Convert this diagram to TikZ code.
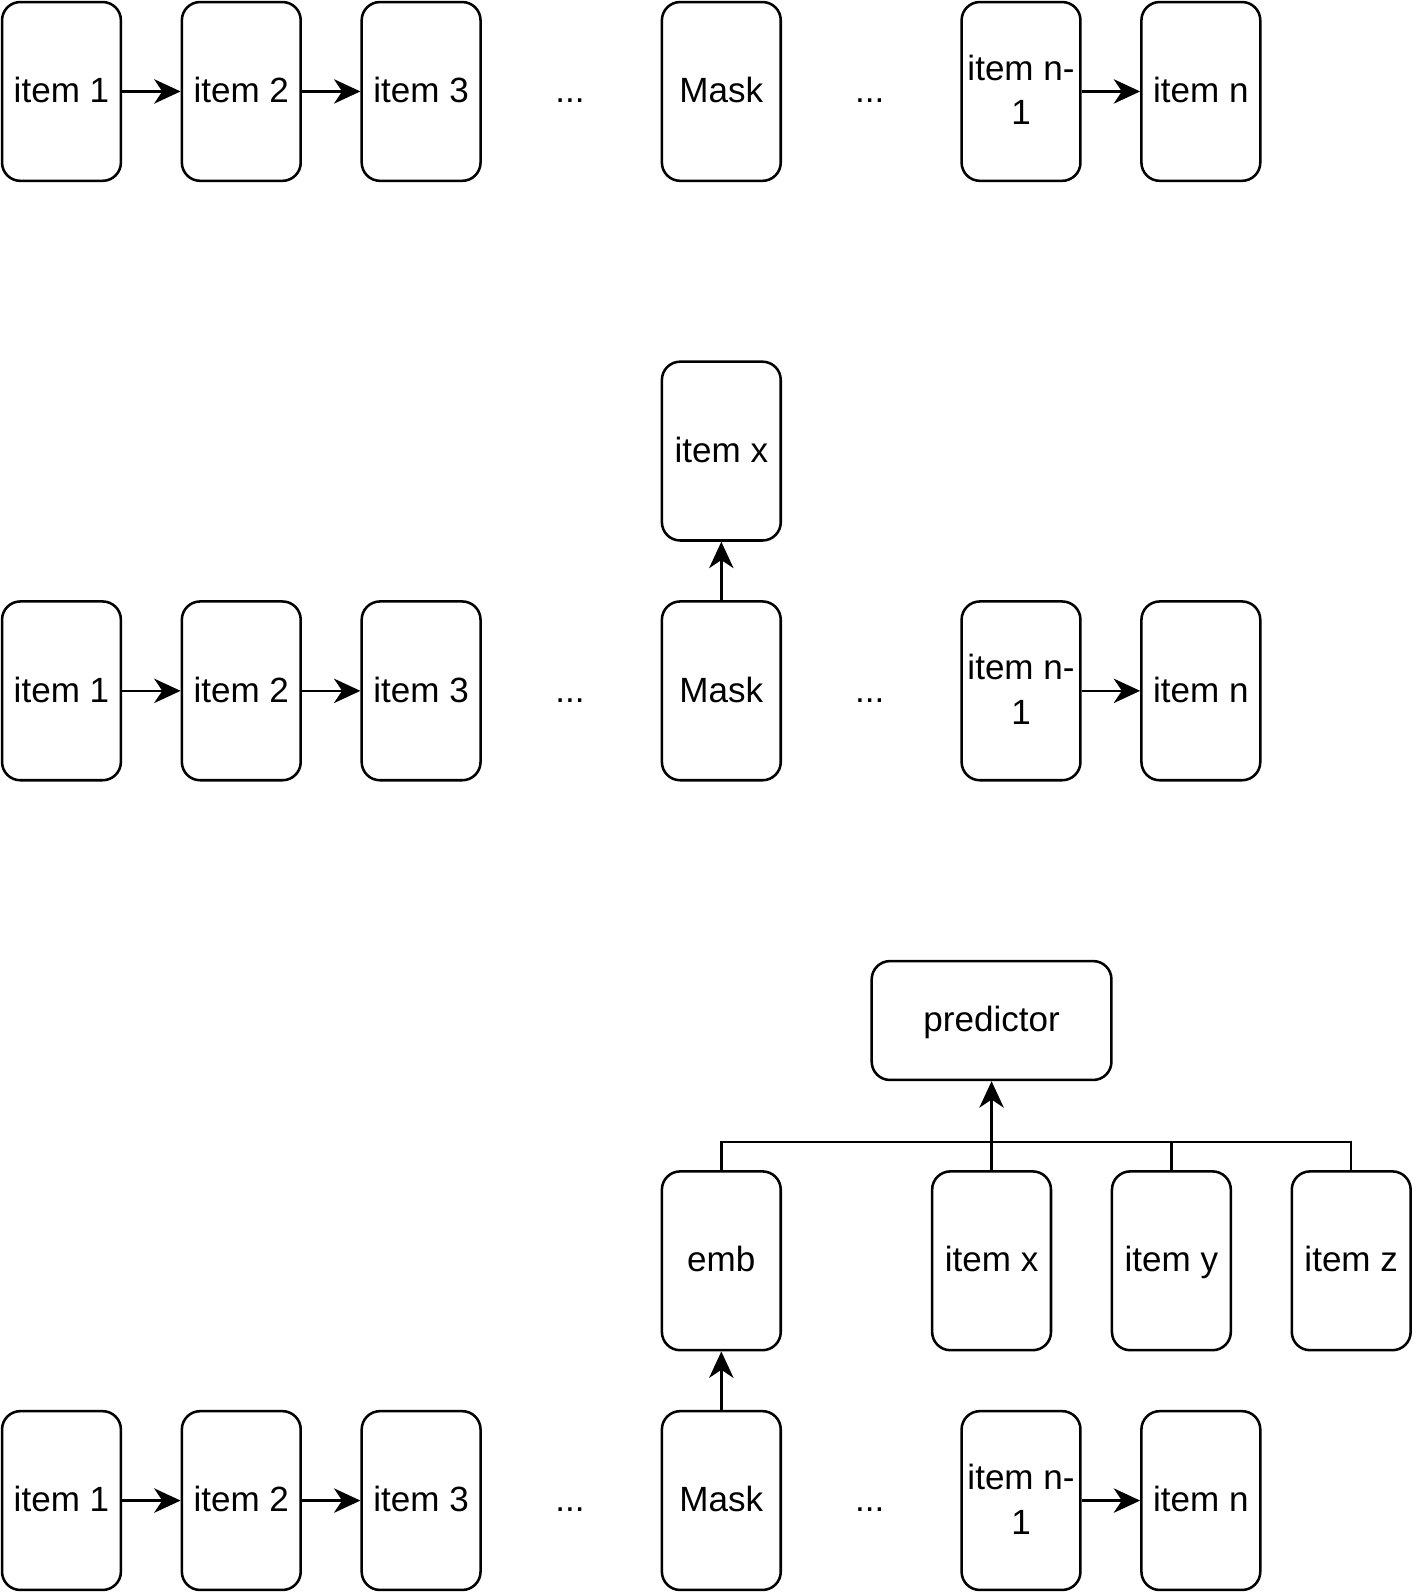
\documentclass[tikz,border=0pt]{standalone}
\usepackage{fontspec}
\setmainfont{Liberation Sans}
\usetikzlibrary{arrows.meta}
\newcommand\mystrut{\rule[-9pt]{0pt}{40pt}}
\begin{document}
\begin{tikzpicture}[x=1pt,y=-1pt,
  box/.style={draw,line width=2.5pt,rounded corners=18pt,minimum width=117pt,minimum height=176pt,inner sep=0pt,align=center,font=\fontsize{34.5}{44}\selectfont},
  wbox/.style={box,minimum width=236pt,minimum height=117pt},
  dots/.style={font=\fontsize{34.5}{44}\selectfont,inner sep=0pt},
  arr/.style={line width=2.5pt,-{Stealth[length=26pt,width=24pt,inset=8pt]}},
  ln/.style={line width=2.5pt}]
\useasboundingbox (0,0) rectangle (1391,1568);
% row 1
\node[box] (a1) at (60.5,90) {\mystrut item 1};
\node[box] (a2) at (237.5,90) {\mystrut item 2};
\node[box] (a3) at (414.5,90) {\mystrut item 3};
\node[dots] (ad1) at (561,90) {\mystrut...};
\node[box] (am) at (710,90) {\mystrut Mask};
\node[dots] (ad2) at (856,90) {\mystrut...};
\node[box] (an1) at (1005,90) {\mystrut item n-\\\mystrut 1};
\node[box] (an) at (1182,90) {\mystrut item n};
\draw[arr] (a1) -- (a2);
\draw[arr] (a2) -- (a3);
\draw[arr] (an1) -- (an);
% row 2
\node[box] (bx) at (710,444) {\mystrut item x};
\node[box] (b1) at (60.5,680) {\mystrut item 1};
\node[box] (b2) at (237.5,680) {\mystrut item 2};
\node[box] (b3) at (414.5,680) {\mystrut item 3};
\node[dots] (bd1) at (561,680) {\mystrut...};
\node[box] (bm) at (710,680) {\mystrut Mask};
\node[dots] (bd2) at (856,680) {\mystrut...};
\node[box] (bn1) at (1005,680) {\mystrut item n-\\\mystrut 1};
\node[box] (bn) at (1182,680) {\mystrut item n};
\draw[arr] (b1) -- (b2);
\draw[arr] (b2) -- (b3);
\draw[arr] (bn1) -- (bn);
\draw[arr] (bm) -- (bx);
% row 3
\node[wbox] (pred) at (976,1004.5) {\mystrut predictor};
\node[box] (emb) at (710,1241) {\mystrut emb};
\node[box] (cx) at (976,1241) {\mystrut item x};
\node[box] (cy) at (1153,1241) {\mystrut item y};
\node[box] (cz) at (1330,1241) {\mystrut item z};
\node[box] (c1) at (60.5,1477) {\mystrut item 1};
\node[box] (c2) at (237.5,1477) {\mystrut item 2};
\node[box] (c3) at (414.5,1477) {\mystrut item 3};
\node[dots] (cd1) at (561,1477) {\mystrut...};
\node[box] (cm) at (710,1477) {\mystrut Mask};
\node[dots] (cd2) at (856,1477) {\mystrut...};
\node[box] (cn1) at (1005,1477) {\mystrut item n-\\\mystrut 1};
\node[box] (cn) at (1182,1477) {\mystrut item n};
\draw[arr] (c1) -- (c2);
\draw[arr] (c2) -- (c3);
\draw[arr] (cn1) -- (cn);
\draw[arr] (cm) -- (emb);
\coordinate (j) at (976,1124);
\draw[ln] (emb.north) |- (j);
\draw[ln] (cy.north) |- (j);
\draw[ln] (cz.north) |- (j);
\draw[arr] (cx.north) -- (pred.south);
\end{tikzpicture}
\end{document}
